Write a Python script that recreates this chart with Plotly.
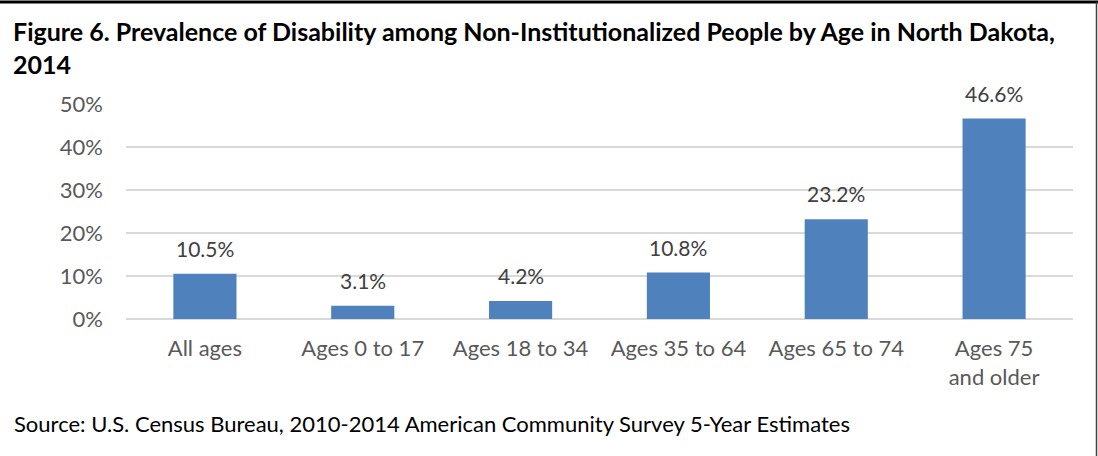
import plotly.graph_objects as go

# Disability prevalence by age group, North Dakota 2014
categories = ["All ages", "Ages 0 to 17", "Ages 18 to 34", "Ages 35 to 64",
              "Ages 65 to 74", "Ages 75<br>and older"]
prevalence = [10.5, 3.1, 4.2, 10.8, 23.2, 46.6]
y_ticks = [0, 10, 20, 30, 40, 50]
y_tick_labels = ["0%", "10%", "20%", "30%", "40%", "50%"]

W, H = 1098, 456
L, R, T, B = 126, 25, 104, 137
FONT = "Lato, Calibri, sans-serif"

fig = go.Figure(go.Bar(
    x=categories,
    y=prevalence,
    marker=dict(color="#4F81BD", line=dict(width=0)),
    hoverinfo="skip",
))

# value labels above each bar
for cat, val in zip(categories, prevalence):
    fig.add_annotation(
        x=cat, y=val, xref="x", yref="y",
        text=f"{val:.1f}%", showarrow=False,
        yanchor="bottom", yshift=11,
        font=dict(family=FONT, size=21, color="#404040"),
    )

def px_x(p):
    return (p - L) / (W - L - R)

def px_y(p):
    return (H - B - p) / (H - T - B)

# title
fig.add_annotation(
    x=px_x(11), y=px_y(14), xref="paper", yref="paper",
    xanchor="left", yanchor="top", align="left", showarrow=False,
    text="<b>Figure 6. Prevalence of Disability among Non-Institutionalized People by Age in North Dakota,<br>2014</b>",
    font=dict(family=FONT, size=25, color="#000000"),
)

# source note
fig.add_annotation(
    x=px_x(12), y=px_y(423), xref="paper", yref="paper",
    xanchor="left", yanchor="middle", align="left", showarrow=False,
    text="Source: U.S. Census Bureau, 2010-2014 American Community Survey 5-Year Estimates",
    font=dict(family=FONT, size=22, color="#000000"),
)

# frame lines (top and right)
fig.add_shape(type="line", xref="paper", yref="paper",
              x0=px_x(0), x1=px_x(W), y0=px_y(2), y1=px_y(2),
              line=dict(color="#000000", width=3))
fig.add_shape(type="line", xref="paper", yref="paper",
              x0=px_x(1096.5), x1=px_x(1096.5), y0=px_y(2), y1=px_y(H),
              line=dict(color="#404040", width=1.5))

fig.update_layout(
    width=W, height=H,
    margin=dict(l=L, r=R, t=T, b=B, pad=0),
    paper_bgcolor="white", plot_bgcolor="white",
    bargap=0.6,
    showlegend=False,
    font=dict(family=FONT, size=22, color="#595959"),
    xaxis=dict(
        showgrid=False, showline=False, zeroline=False,
        ticks="", ticklabelstandoff=14,
        tickfont=dict(family=FONT, size=22, color="#595959"),
        fixedrange=True,
    ),
    yaxis=dict(
        range=[0, 50], tickvals=y_ticks, ticktext=y_tick_labels,
        showgrid=True, gridcolor="#D9D9D9", gridwidth=1.5,
        zeroline=True, zerolinecolor="#D9D9D9", zerolinewidth=1.5,
        showline=False, ticks="", ticklabelstandoff=22,
        tickfont=dict(family=FONT, size=22, color="#595959"),
        fixedrange=True,
    ),
)

fig.write_html("out.html")
